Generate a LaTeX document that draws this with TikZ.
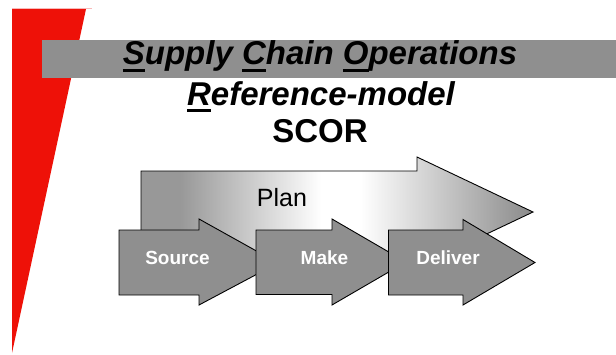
\documentclass[tikz,border=0pt]{standalone}
\usepackage{fontspec}
\setmainfont{Liberation Sans}
\definecolor{slidered}{RGB}{238,17,8}
\definecolor{edgepink}{RGB}{248,185,185}
\definecolor{bandgray}{RGB}{143,143,143}
\definecolor{stepgray}{RGB}{143,143,143}
\definecolor{plandark}{RGB}{152,152,152}
\definecolor{plantip}{RGB}{138,138,138}
% Plan arrow: grey at the tail, white in the middle, grey again at the tip
\pgfdeclarehorizontalshading{planshade}{100bp}{color(0bp)=(plandark); color(25bp)=(plandark); color(30bp)=(plandark); color(48bp)=(white); color(53bp)=(white); color(75bp)=(plantip); color(100bp)=(plantip)}
% thick underline under a single initial letter
\newlength\ulwidth
\newcommand\ulletter[1]{\settowidth{\ulwidth}{#1}\rlap{\rule[-7pt]{\ulwidth}{3pt}}#1}
\begin{document}
\begin{tikzpicture}[x=1pt,y=-1pt,
  titletext/.style={inner sep=0pt, font=\fontsize{33}{39}\selectfont\bfseries\itshape},
  acronym/.style={inner sep=0pt, font=\fontsize{33}{39}\selectfont\bfseries},
  planarrow/.style={shading=planshade, draw=black, line width=0.9pt, line join=miter},
  steparrow/.style={fill=stepgray, draw=black, line width=0.9pt, line join=miter},
  steplabel/.style={inner sep=0pt, text=white, font=\fontsize{19}{22}\selectfont\bfseries},
  planlabel/.style={inner sep=0pt, font=\fontsize{25}{30}\selectfont}]
\useasboundingbox (0,0) rectangle (616,354);

% red wedge on the left and the grey title band over it
\fill[slidered] (12,9) -- (86,9) -- (12,353) -- cycle;
\draw[edgepink, line width=0.8pt] (12,8.4) -- (92,8.4);
\fill[bandgray] (42,40) rectangle (616,78);

% title
\node[titletext, anchor=base] (title1) at (320,64.8) {\ulletter{S}upply \ulletter{C}hain \ulletter{O}perations};
\node[titletext, anchor=base] (title2) at (321,105) {\ulletter{R}eference-model};
\node[acronym, anchor=base] (scor) at (320,142) {SCOR};

% Plan arrow behind the three process arrows
\shadedraw[planarrow] (141,171) -- (417,171) -- (417,157) -- (533,212) -- (417,267) -- (417,252) -- (141,252) -- cycle;
\node[planlabel, anchor=base] (plan) at (282,206.7) {Plan};

% Source, Make, Deliver
\draw[steparrow] (119,230) -- (199,230) -- (199,219) -- (278,263) -- (199,305) -- (199,295) -- (119,295) -- cycle;
\draw[steparrow] (256,230) -- (332,230) -- (332,219) -- (406,262) -- (332,305) -- (332,294.5) -- (256,294.5) -- cycle;
\draw[steparrow] (388.5,230) -- (463,230) -- (463,219.5) -- (535,262.5) -- (463,305) -- (463,295) -- (388.5,295) -- cycle;
\node[steplabel, anchor=base] (source) at (177.5,264) {Source};
\node[steplabel, anchor=base] (make) at (324.5,264) {Make};
\node[steplabel, anchor=base] (deliver) at (448,264) {Deliver};
\end{tikzpicture}
\end{document}
